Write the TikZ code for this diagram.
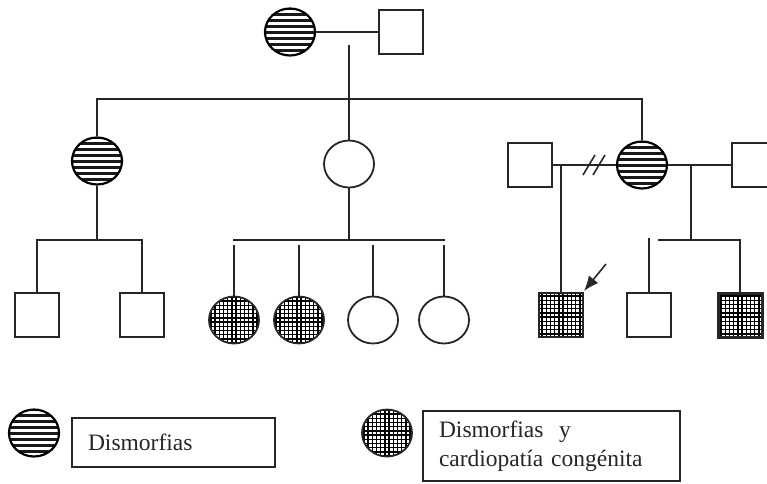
\documentclass[tikz,border=0pt]{standalone}
\usepackage{fontspec}
\setmainfont{Liberation Serif}
\usetikzlibrary{shapes.geometric,arrows.meta}
\begin{document}
\begin{tikzpicture}[x=1pt,y=-1pt,
  ln/.style={line width=1.6pt, draw=black!85},
  fem/.style={ellipse, draw=black!85, line width=1.8pt, minimum width=50pt, minimum height=47pt, inner sep=0pt, fill=white},
  mal/.style={rectangle, draw=black!85, line width=1.8pt, minimum size=44pt, inner sep=0pt, fill=white},
  hstripe/.style={line width=2.2pt, draw=black, path picture={\foreach \k in {-4,...,4}{\draw[line width=3pt,black!90] ([yshift=\k*6pt]path picture bounding box.west) -- ([yshift=\k*6pt]path picture bounding box.east);}}},
  checks/.style={path picture={\foreach \k in {-7,...,7}{\draw[line width=1.45pt,black] ([xshift=\k*4.2pt+2.1pt]path picture bounding box.north) -- ([xshift=\k*4.2pt+2.1pt]path picture bounding box.south); \draw[line width=1.45pt,black] ([yshift=\k*4.2pt+2.1pt]path picture bounding box.west) -- ([yshift=\k*4.2pt+2.1pt]path picture bounding box.east);}}},
  legbox/.style={draw=black!85, line width=1.6pt, inner xsep=15pt, inner ysep=0pt, align=left, text=black!85, font=\fontsize{23.5}{29}\selectfont}
]
\clip (0,0) rectangle (767,483);
\fill[white] (0,0) rectangle (767,483);

% Generation I
\node[fem,hstripe] (I1) at (290,32) {};
\node[mal] (I2) at (401,32) {};
\draw[ln] (I1.east) -- (I2.west);
\coordinate (d0) at (349,45);

% Generation II
\node[fem] (II2) at (349,164) {};
\draw[ln] (d0) -- (II2.north);
\coordinate (s1) at (0,99);
\node[fem,hstripe] (II1) at (97,161) {};
\node[fem,hstripe] (II4) at (642,165) {};
\draw[ln] (II1.north) -- (II1.north |- s1) -- (II4.north |- s1) -- (II4.north);
\node[mal] (II3) at (530,165) {};
\node[mal] (II5) at (754,165) {};
\draw[ln] (II3.east) -- (II4.west);
\draw[ln] (II4.east) -- (II5.west);
\coordinate (sl1a) at (583,175); \coordinate (sl1b) at (595,155);
\coordinate (sl2a) at (593,175); \coordinate (sl2b) at (605,155);
\draw[ln] (sl1a) -- (sl1b);
\draw[ln] (sl2a) -- (sl2b);

% Generation III, children of II1
\coordinate (s2) at (0,240);
\node[mal] (III1) at (37,315) {};
\node[mal] (III2) at (142,315) {};
\draw[ln] (II1.south) -- (II1.south |- s2);
\draw[ln] (III1.north) -- (III1.north |- s2) -- (III2.north |- s2) -- (III2.north);

% children of II2
\node[fem,checks] (III3) at (234,320) {};
\node[fem,checks] (III4) at (299,320) {};
\node[fem] (III5) at (373,320) {};
\node[fem] (III6) at (444,320) {};
\coordinate (s3a) at (233,240); \coordinate (s3b) at (445,240);
\draw[ln] (s3a) -- (s3b);
\draw[ln] (II2.south) -- (II2.south |- s2);
\coordinate (s4) at (0,245);
\foreach \c in {III3,III4,III5,III6}{\draw[ln] (\c.north) -- (\c.north |- s4);}

% proband
\node[mal,checks] (III7) at (561,315) {};
\coordinate (m1) at (561,165);
\draw[ln] (m1) -- (III7.north);
\coordinate (arS) at (606,264); \coordinate (arE) at (584,291);
\draw[ln,-{Latex[length=15pt,width=12pt]}] (arS) -- (arE);

% children of II4 x II5
\node[mal] (III8) at (649,315) {};
\node[mal,checks,line width=3pt] (III9) at (740,315) {};
\coordinate (m2) at (691,165); \coordinate (m2b) at (691,240);
\draw[ln] (m2) -- (m2b);
\coordinate (s5a) at (658,240);
\draw[ln] (s5a) -- (III9.north |- s5a) -- (III9.north);
\coordinate (s6) at (0,238);
\draw[ln] (III8.north) -- (III8.north |- s6);

% legend
\node[fem,hstripe] (L1) at (34,433) {};
\node[legbox, minimum width=203pt, minimum height=49pt, text width=171pt] (B1) at (173.5,442.5) {Dismorfias};
\node[fem,checks] (L2) at (387,433) {};
\node[legbox, minimum width=257pt, minimum height=70pt, text width=225pt] (B2) at (551.5,446) {Dismorfias~ y\\cardiopatía congénita};
\end{tikzpicture}
\end{document}
